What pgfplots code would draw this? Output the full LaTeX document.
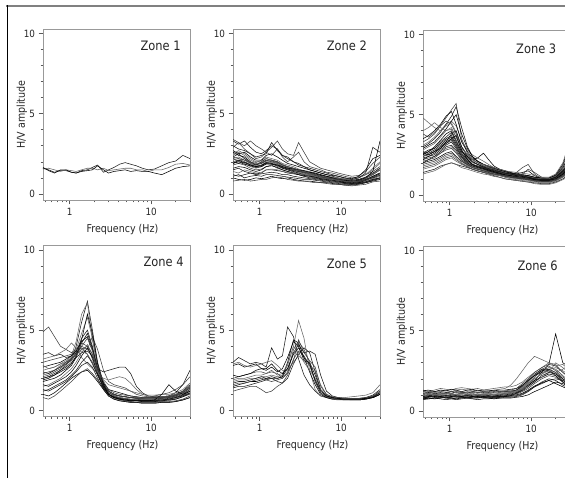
\documentclass[border=0pt]{standalone}
\usepackage{fontspec}
\setmainfont{DejaVu Sans}[FakeStretch=0.88]
\usepackage{pgfplots}
\usepackage{pgfplotstable}
\pgfplotsset{compat=1.18}

% each row = one H/V curve, columns = frequency (Hz)
\pgfplotstableread[row sep=\\]{
id 0.47 0.55 0.65 0.77 0.9 1.05 1.2 1.4 1.65 1.9 2.2 2.6 3.0 3.5 4.1 4.8 5.6 6.6 7.8 9.2 11 13.5 16.5 20 24.5 30 \\
a1 1.6 1.5 1.35 1.45 1.45 1.35 1.3 1.45 1.5 1.65 1.8 1.35 1.5 1.65 1.85 1.95 1.85 1.75 1.6 1.5 1.55 1.75 1.95 2.05 2.4 2.2 \\
a2 1.55 1.6 1.5 1.4 1.5 1.45 1.4 1.5 1.6 1.6 1.5 1.6 1.45 1.5 1.55 1.6 1.6 1.5 1.5 1.4 1.5 1.5 1.65 1.85 1.9 1.8 \\
a3 1.65 1.45 1.3 1.5 1.5 1.35 1.3 1.4 1.45 1.5 1.75 1.5 1.3 1.4 1.45 1.5 1.4 1.45 1.4 1.4 1.3 1.2 1.4 1.6 1.7 1.75 \\
}\ZoneOneRaw

\pgfplotstableread[row sep=\\]{
id 0.47 0.55 0.65 0.77 0.9 1.05 1.2 1.4 1.65 1.9 2.2 2.6 3.0 3.5 4.1 4.8 5.6 6.6 7.8 9.2 11 13.5 16.5 20 24.5 30 \\
c1 2.3 2.5 2.2 1.9 1.8 1.9 2.1 2.0 1.9 1.7 1.6 1.5 1.4 1.3 1.2 1.15 1.05 1.0 0.95 0.9 0.8 0.75 0.8 0.9 1.1 1.3 \\
c2 2.0 2.1 1.9 1.7 1.6 1.7 1.9 1.9 1.7 1.6 1.5 1.35 1.25 1.2 1.1 1.0 0.95 0.9 0.85 0.8 0.7 0.65 0.7 0.8 0.95 1.1 \\
c3 2.6 2.4 2.3 2.0 1.8 2.0 2.2 2.1 2.0 1.8 1.7 1.6 1.5 1.4 1.35 1.25 1.15 1.05 1.0 0.95 0.9 0.85 0.9 1.05 1.3 1.6 \\
c4 1.8 1.9 1.8 1.6 1.5 1.55 1.7 1.8 1.6 1.5 1.4 1.3 1.2 1.1 1.05 1.0 0.9 0.85 0.8 0.75 0.65 0.6 0.65 0.7 0.85 1.0 \\
c5 3.3 3.1 3.3 2.9 2.6 2.5 2.7 3.0 2.8 2.4 2.2 2.0 1.8 1.7 1.5 1.4 1.3 1.2 1.1 1.0 0.9 0.85 0.9 1.0 1.2 1.5 \\
c6 2.2 2.3 2.1 1.9 1.75 1.8 2.0 1.95 1.85 1.65 1.55 1.45 1.35 1.25 1.2 1.1 1.0 0.95 0.9 0.85 0.75 0.7 0.75 0.85 1.0 1.2 \\
c7 1.0 0.9 0.85 0.9 1.0 0.95 1.0 1.1 1.0 0.95 1.0 0.9 0.85 0.8 0.8 0.75 0.7 0.7 0.65 0.6 0.55 0.55 0.6 0.7 0.8 0.9 \\
c8 2.9 3.2 2.8 2.5 2.2 2.3 2.6 2.4 2.8 2.3 2.0 2.3 2.6 2.0 1.7 1.6 1.5 1.35 1.3 1.2 1.1 1.0 1.05 1.2 1.4 1.7 \\
c9 1.5 1.6 1.4 1.3 1.25 1.3 1.5 1.5 1.45 1.4 1.3 1.25 1.2 1.1 1.0 0.95 0.9 0.85 0.8 0.75 0.7 0.65 0.7 0.75 0.9 1.0 \\
c10 2.4 2.6 2.4 2.1 1.95 2.1 2.3 2.2 2.1 1.9 1.8 1.7 1.55 1.45 1.4 1.3 1.2 1.1 1.05 1.0 0.95 0.9 1.0 1.2 1.6 2.0 \\
c11 1.9 2.0 1.85 1.75 1.65 1.7 1.85 1.85 1.8 1.6 1.5 1.4 1.3 1.2 1.15 1.05 0.95 0.9 0.85 0.8 0.7 0.65 0.7 0.85 1.1 1.3 \\
c12 3.4 3.2 3.0 3.3 3.0 2.8 2.6 2.9 3.3 2.8 2.5 2.4 3.2 2.6 2.0 1.8 1.6 1.5 1.4 1.3 1.2 1.1 1.15 1.4 1.9 2.3 \\
c13 1.2 1.1 1.2 1.3 1.2 1.25 1.3 1.35 1.3 1.2 1.2 1.1 1.05 1.0 0.95 0.9 0.85 0.8 0.75 0.7 0.65 0.6 0.65 0.75 0.9 1.0 \\
c14 2.1 2.2 2.0 1.85 1.7 1.75 1.95 2.0 1.9 1.75 1.6 1.5 1.4 1.3 1.25 1.2 1.1 1.0 0.95 0.85 0.8 0.75 0.8 0.95 1.2 1.5 \\
c15 2.7 2.5 2.6 2.3 2.1 2.1 2.4 2.5 2.3 2.1 1.9 1.8 1.7 1.6 1.5 1.4 1.3 1.2 1.15 1.1 1.0 0.95 1.1 1.5 2.2 2.4 \\
c16 0.8 0.85 0.9 0.8 0.85 0.9 0.9 1.0 1.05 1.0 0.9 0.85 0.8 0.8 0.75 0.7 0.7 0.65 0.6 0.6 0.55 0.5 0.55 0.6 0.75 0.8 \\
c17 2.0 1.9 2.0 1.8 1.7 1.8 1.9 1.85 1.75 1.65 1.55 1.45 1.4 1.35 1.3 1.25 1.15 1.1 1.0 0.95 0.85 0.8 0.8 0.9 1.0 1.15 \\
c18 2.5 2.7 2.5 2.2 2.0 2.05 2.2 2.1 2.0 1.85 1.7 1.6 1.5 1.4 1.3 1.2 1.1 1.05 1.0 0.95 0.9 0.9 1.0 1.2 1.5 1.9 \\
c19 1.6 1.7 1.65 1.5 1.4 1.5 1.7 1.75 1.65 1.5 1.4 1.3 1.2 1.15 1.1 1.05 1.0 0.95 0.9 0.85 0.75 0.7 0.75 0.85 1.05 1.25 \\
c20 2.2 2.0 2.2 2.0 1.9 1.95 2.1 2.1 2.0 1.8 1.65 1.55 1.45 1.35 1.3 1.2 1.1 1.0 0.95 0.9 0.8 0.75 0.8 0.95 1.25 1.6 \\
c21 3.0 2.8 2.7 2.5 2.3 2.4 2.5 3.2 2.7 2.4 2.3 2.0 1.9 1.7 1.6 1.5 1.4 1.3 1.2 1.1 1.0 0.9 1.0 1.3 2.9 2.6 \\
c22 1.4 1.3 1.5 1.4 1.3 1.35 1.5 1.55 1.5 1.4 1.35 1.3 1.25 1.2 1.15 1.1 1.0 0.95 0.9 0.85 0.8 0.75 0.85 1.0 1.25 1.5 \\
c23 1.9 2.1 1.95 1.8 1.7 1.75 1.95 1.9 1.8 1.7 1.6 1.55 1.5 1.45 1.35 1.3 1.2 1.1 1.0 0.9 0.85 0.8 0.85 1.0 1.4 3.3 \\
c24 2.3 2.2 2.1 1.95 1.85 1.9 2.05 2.05 1.95 1.8 1.7 1.6 1.45 1.35 1.25 1.15 1.05 1.0 0.95 0.9 0.8 0.75 0.75 0.85 1.05 1.3 \\
c25 1.1 1.2 1.0 1.1 1.15 1.1 1.2 1.2 1.15 1.1 1.05 1.0 0.95 0.9 0.9 0.85 0.8 0.75 0.7 0.65 0.6 0.6 0.65 0.7 0.85 0.95 \\
}\ZoneTwoRaw

\pgfplotstableread[row sep=\\]{
id 0.47 0.55 0.65 0.77 0.9 1.05 1.2 1.4 1.65 1.9 2.2 2.6 3.0 3.5 4.1 4.8 5.6 6.6 7.8 9.2 11 13.5 16.5 20 24.5 30 \\
d1 2.4 2.5 2.7 3.0 3.3 3.5 3.0 2.4 2.0 1.8 1.7 1.6 1.5 1.4 1.3 1.2 1.15 1.1 1.05 1.0 0.95 0.9 0.9 1.0 1.3 1.8 \\
d2 2.8 3.0 3.2 3.6 4.0 4.2 3.6 2.8 2.3 2.0 1.9 1.7 1.6 1.5 1.4 1.3 1.2 1.15 1.1 1.05 1.0 0.95 0.95 1.1 1.5 2.1 \\
d3 2.0 2.1 2.2 2.4 2.6 2.7 2.4 2.1 1.9 1.7 1.6 1.5 1.4 1.3 1.25 1.15 1.1 1.05 1.0 0.95 0.9 0.85 0.85 0.95 1.2 1.6 \\
d4 3.3 3.5 3.8 4.3 4.8 5.3 5.7 3.5 2.6 2.2 2.0 1.8 1.7 1.6 1.5 1.4 1.3 1.25 1.2 1.1 1.05 1.0 1.0 1.15 1.6 2.4 \\
d5 1.4 1.5 1.6 1.8 1.9 2.0 1.9 1.8 1.7 1.6 1.5 1.4 1.3 1.2 1.1 1.0 0.95 0.9 0.85 0.8 0.75 0.7 0.7 0.8 1.0 1.3 \\
d6 4.8 4.5 4.2 4.0 4.4 4.6 4.3 3.4 2.8 2.5 2.3 2.1 1.9 1.7 1.6 1.5 1.4 1.3 1.25 1.2 1.1 1.05 1.05 1.2 1.7 2.5 \\
d7 2.6 2.8 2.9 3.2 3.5 3.7 3.2 2.6 2.2 1.9 1.8 1.7 1.55 1.45 1.35 1.25 1.2 1.1 1.05 1.0 0.95 0.9 0.9 1.05 1.4 1.9 \\
d8 2.2 2.3 2.4 2.6 2.9 3.0 2.7 2.2 1.95 1.75 1.65 1.55 1.45 1.35 1.3 1.2 1.15 1.1 1.05 1.0 0.95 0.9 0.9 1.0 1.3 1.7 \\
d9 3.0 3.2 3.5 3.9 4.4 4.9 5.5 4.2 3.0 2.4 2.1 1.9 1.8 1.7 1.55 1.45 1.35 1.3 1.25 1.2 1.1 1.05 1.05 1.2 1.7 2.6 \\
d10 1.8 1.9 2.0 2.2 2.4 2.5 2.3 2.0 1.8 1.6 1.5 1.45 1.35 1.25 1.2 1.1 1.05 1.0 0.95 0.9 0.85 0.8 0.8 0.9 1.1 1.5 \\
d11 2.5 2.7 3.0 3.4 3.8 4.0 3.4 2.7 2.4 2.2 2.3 2.6 2.2 1.8 1.6 1.5 1.4 1.3 1.4 1.5 1.2 1.0 1.0 1.15 1.5 2.2 \\
d12 3.8 3.6 3.9 4.3 4.6 4.4 3.8 3.0 2.5 2.2 2.0 1.8 1.7 1.6 1.5 1.4 1.35 1.3 1.25 1.2 1.1 1.0 1.0 1.2 1.8 3.0 \\
d13 2.3 2.4 2.5 2.8 3.1 3.3 2.9 2.4 2.1 1.85 1.75 1.65 1.5 1.4 1.35 1.25 1.2 1.1 1.05 1.0 0.95 0.9 0.9 1.05 1.35 1.8 \\
d14 1.6 1.7 1.8 2.0 2.2 2.3 2.1 1.9 1.75 1.6 1.5 1.4 1.3 1.25 1.2 1.1 1.0 0.95 0.9 0.85 0.8 0.75 0.75 0.85 1.1 1.4 \\
d15 2.9 3.1 3.3 3.7 4.1 4.6 5.0 3.8 2.9 2.4 2.1 1.9 1.75 1.6 1.5 1.4 1.3 1.25 1.2 1.15 1.05 1.0 1.0 1.1 1.5 2.1 \\
d16 2.1 2.2 2.3 2.6 2.8 2.9 2.6 2.2 1.9 1.7 1.6 1.5 1.45 1.4 1.35 1.3 1.3 1.4 1.7 1.9 1.3 1.0 0.95 1.05 1.3 1.7 \\
d17 2.7 2.6 2.8 3.1 3.4 3.6 3.1 2.5 2.1 1.9 1.8 1.7 1.6 1.5 1.4 1.3 1.25 1.2 1.15 1.1 1.0 0.95 0.95 1.1 1.45 2.0 \\
d18 1.3 1.4 1.5 1.7 1.9 2.0 1.9 1.7 1.6 1.5 1.4 1.3 1.25 1.15 1.1 1.0 0.95 0.9 0.85 0.8 0.7 0.65 0.65 0.75 0.95 1.2 \\
d19 3.5 3.7 4.0 4.4 4.9 5.2 4.4 3.3 2.7 2.3 2.1 1.9 1.8 1.65 1.55 1.45 1.35 1.3 1.25 1.2 1.1 1.05 1.05 1.25 1.9 3.2 \\
d20 2.4 2.6 2.7 3.0 3.2 3.4 3.0 2.5 2.1 1.9 1.8 1.7 1.6 1.5 1.4 1.3 1.25 1.2 1.3 1.6 1.4 1.1 1.0 1.1 1.4 1.9 \\
d21 2.0 2.2 2.4 2.7 3.0 3.1 2.8 2.3 2.0 1.8 1.7 1.6 1.5 1.4 1.3 1.2 1.1 1.05 1.0 0.95 0.9 0.85 0.85 0.95 1.25 1.6 \\
d22 3.1 3.3 3.6 4.0 4.3 4.5 3.9 3.0 2.5 2.2 2.0 1.85 1.7 1.6 1.5 1.4 1.3 1.25 1.2 1.15 1.05 1.0 1.0 1.15 1.5 2.2 \\
d23 2.6 2.5 2.7 2.9 3.3 3.8 4.0 3.0 2.4 2.1 1.9 1.75 1.65 1.55 1.45 1.35 1.3 1.2 1.15 1.1 1.0 0.95 0.95 1.1 1.5 2.0 \\
d24 1.9 2.0 2.1 2.3 2.5 2.6 2.4 2.1 1.85 1.7 1.6 1.5 1.4 1.3 1.25 1.15 1.1 1.05 1.0 0.95 0.85 0.8 0.8 0.9 1.15 1.5 \\
d25 2.5 2.7 2.9 3.3 3.6 3.9 3.3 2.7 2.3 2.05 1.9 1.75 1.6 1.5 1.45 1.35 1.3 1.25 1.2 1.1 1.0 0.95 0.95 1.1 1.45 2.0 \\
d26 4.0 4.2 4.5 4.2 4.0 4.1 3.6 2.9 2.5 2.2 2.0 1.9 1.8 1.7 1.6 1.5 1.45 1.4 1.35 1.3 1.2 1.1 1.1 1.3 2.0 3.4 \\
d27 2.2 2.4 2.6 2.9 3.2 3.5 3.7 2.8 2.2 1.9 1.75 1.65 1.55 1.45 1.35 1.25 1.2 1.15 1.1 1.05 0.95 0.9 0.9 1.0 1.3 1.8 \\
d28 1.7 1.8 1.9 2.1 2.3 2.4 2.2 1.95 1.75 1.6 1.5 1.4 1.35 1.3 1.25 1.2 1.15 1.1 1.05 1.0 0.9 0.85 0.85 0.95 1.2 1.55 \\
}\ZoneThreeRaw

\pgfplotstableread[row sep=\\]{
id 0.47 0.55 0.65 0.77 0.9 1.05 1.2 1.4 1.65 1.9 2.2 2.6 3.0 3.5 4.1 4.8 5.6 6.6 7.8 9.2 11 13.5 16.5 20 24.5 30 \\
e1 2.0 2.1 2.2 2.5 2.8 3.2 4.0 5.5 6.8 5.0 3.0 1.7 1.1 0.9 0.8 0.75 0.7 0.7 0.65 0.65 0.65 0.7 0.75 0.85 1.0 1.3 \\
e2 2.5 2.6 2.7 2.9 3.1 3.4 4.3 6.0 6.7 4.4 2.7 1.6 1.1 0.9 0.8 0.75 0.7 0.65 0.6 0.6 0.6 0.65 0.7 0.8 0.95 1.2 \\
e3 1.8 1.9 2.0 2.2 2.5 2.8 3.3 4.2 4.8 3.9 2.6 1.6 1.2 1.0 0.9 0.85 0.8 0.75 0.7 0.7 0.7 0.75 0.8 0.9 1.1 1.4 \\
e4 4.9 5.2 4.6 4.0 3.8 3.6 3.8 4.2 4.0 3.2 2.3 1.5 1.1 0.95 0.9 0.85 0.8 0.75 0.7 0.7 0.7 0.75 0.8 0.9 1.05 1.3 \\
e5 3.5 3.6 3.4 3.5 3.3 3.4 3.6 3.9 3.5 2.9 2.2 1.5 1.2 1.0 0.9 0.85 0.8 0.8 0.75 0.75 0.75 0.8 0.85 0.95 1.2 1.5 \\
e6 2.2 2.3 2.5 2.8 3.0 3.3 3.8 4.8 5.8 4.5 2.8 1.6 1.0 0.8 0.7 0.65 0.6 0.6 0.55 0.55 0.55 0.6 0.65 0.75 0.9 1.1 \\
e7 1.0 0.9 1.1 1.4 1.7 2.0 2.2 2.4 2.5 2.2 1.8 1.3 0.9 0.7 0.6 0.55 0.5 0.5 0.45 0.45 0.45 0.5 0.5 0.55 0.65 0.8 \\
e8 3.0 3.1 3.2 3.3 3.4 3.5 3.7 4.0 3.8 4.6 3.8 2.5 1.8 1.6 1.5 1.4 1.2 1.0 0.9 0.85 0.8 0.8 0.85 0.95 1.1 1.4 \\
e9 2.0 2.1 2.3 2.5 2.7 3.0 3.3 3.6 3.7 3.4 2.6 2.4 2.5 2.6 2.7 2.7 2.3 1.5 1.1 0.9 0.85 0.85 0.9 1.1 1.6 2.5 \\
e10 1.5 1.6 1.8 2.0 2.3 2.6 3.0 3.6 4.1 3.5 2.4 1.4 0.9 0.75 0.65 0.6 0.55 0.5 0.5 0.5 0.5 0.55 0.6 0.7 0.85 1.0 \\
e11 2.7 2.8 2.9 3.0 3.2 3.4 3.7 4.3 4.6 3.8 2.6 1.7 1.3 1.2 1.1 1.0 0.9 0.85 0.8 0.8 0.8 0.85 0.9 1.0 1.2 1.6 \\
e12 0.8 0.7 0.9 1.2 1.5 1.8 2.1 2.4 2.6 2.3 1.9 1.4 1.0 0.8 0.7 0.6 0.55 0.5 0.5 0.5 0.5 0.55 0.55 0.6 0.7 0.9 \\
e13 2.4 2.3 2.5 2.7 2.9 3.2 3.6 4.5 5.0 4.0 2.5 1.5 1.0 0.85 0.75 0.7 0.65 0.65 0.6 0.6 0.6 0.65 0.7 0.8 0.95 1.2 \\
e14 3.2 3.3 3.4 3.6 3.8 4.2 3.9 3.3 2.9 2.6 2.3 2.0 1.9 2.0 2.1 2.0 1.7 1.3 1.0 0.9 0.85 0.85 0.9 1.0 1.2 1.5 \\
e15 1.6 1.5 1.7 1.9 2.1 2.4 2.8 3.4 3.9 3.3 2.3 1.4 1.0 0.8 0.7 0.65 0.6 0.6 0.55 0.55 0.55 0.6 0.65 0.7 0.85 1.05 \\
e16 2.1 2.2 2.4 2.6 2.9 3.1 3.5 4.0 4.5 3.7 2.5 1.6 1.2 1.0 0.9 0.85 0.8 0.75 0.75 0.8 0.9 1.0 1.1 1.3 1.6 2.1 \\
e17 1.2 1.3 1.5 1.7 1.9 2.2 2.5 3.0 3.4 3.0 2.2 1.4 1.0 0.85 0.75 0.7 0.65 0.6 0.6 0.6 0.6 0.65 0.7 0.8 0.9 1.1 \\
e18 2.8 2.6 2.7 2.9 3.0 3.3 3.5 3.7 3.5 3.0 2.4 1.9 1.6 1.5 1.4 1.3 1.2 1.1 1.0 0.95 0.95 1.0 1.0 1.1 1.3 1.7 \\
e19 1.9 2.0 2.2 2.4 2.6 2.9 3.4 4.4 6.0 4.8 2.9 1.6 1.0 0.8 0.7 0.65 0.6 0.6 0.6 0.6 0.65 1.0 1.6 1.2 1.0 1.2 \\
e20 2.3 2.4 2.5 2.7 3.0 3.2 3.5 3.8 4.0 3.5 2.6 1.8 1.3 1.1 1.0 0.95 0.9 0.85 0.8 0.8 0.8 0.8 0.85 0.95 1.15 1.45 \\
e21 1.3 1.2 1.4 1.6 1.8 2.1 2.4 2.8 3.0 2.7 2.0 1.3 0.9 0.7 0.6 0.55 0.5 0.5 0.45 0.45 0.45 0.5 0.5 0.55 0.65 0.8 \\
}\ZoneFourRaw

\pgfplotstableread[row sep=\\]{
id 0.47 0.55 0.65 0.77 0.9 1.05 1.2 1.4 1.65 1.9 2.2 2.6 3.0 3.5 4.1 4.8 5.6 6.6 7.8 9.2 11 13.5 16.5 20 24.5 30 \\
g1 3.0 3.3 3.1 2.9 3.0 2.9 2.7 3.9 3.2 3.4 5.2 4.6 3.2 2.2 1.6 1.2 0.9 0.8 0.75 0.7 0.7 0.7 0.7 0.75 0.8 1.0 \\
g2 1.8 1.9 1.9 2.0 2.0 2.1 2.1 2.2 2.1 2.2 2.8 4.0 5.6 4.5 2.5 1.3 0.9 0.8 0.75 0.7 0.7 0.65 0.65 0.7 0.8 1.0 \\
g3 2.8 2.9 2.7 2.8 2.9 2.6 2.5 2.7 2.4 2.6 3.3 4.3 4.0 3.1 3.0 2.2 1.3 0.9 0.8 0.75 0.7 0.7 0.7 0.75 0.85 1.1 \\
g4 1.2 1.3 1.4 1.5 1.5 1.3 1.1 1.2 1.5 1.7 2.2 3.2 3.7 3.4 2.8 1.8 1.1 0.8 0.7 0.65 0.65 0.65 0.65 0.7 0.8 1.0 \\
g5 1.7 1.8 1.8 1.9 2.0 2.1 2.0 2.0 2.0 2.1 2.6 3.6 4.1 3.6 3.7 3.5 2.2 1.2 0.9 0.8 0.75 0.75 0.75 0.8 0.95 1.3 \\
g6 2.9 3.0 2.8 2.7 2.8 2.9 3.0 3.1 2.8 2.5 2.5 3.0 3.4 3.1 2.8 2.5 1.6 1.0 0.8 0.75 0.7 0.7 0.7 0.75 0.9 1.2 \\
g7 1.5 1.6 1.7 1.8 1.8 1.9 2.0 2.1 2.0 2.1 3.0 4.4 4.2 3.3 2.4 1.6 1.0 0.8 0.7 0.7 0.65 0.65 0.65 0.7 0.8 1.0 \\
g8 2.0 2.1 2.2 2.3 2.4 2.4 2.3 2.4 2.3 2.0 2.3 3.8 4.3 3.8 3.0 1.8 1.1 0.85 0.75 0.7 0.7 0.7 0.7 0.75 0.85 1.1 \\
g9 1.4 1.5 1.5 1.6 1.7 1.8 1.9 2.0 1.8 1.7 2.0 2.9 3.5 3.9 3.6 2.4 1.3 0.9 0.8 0.75 0.7 0.7 0.7 0.75 0.85 1.1 \\
g10 1.9 2.0 2.0 2.1 2.2 2.2 2.3 2.5 2.2 2.3 2.9 4.0 3.6 3.0 2.5 2.0 1.3 0.95 0.85 0.8 0.8 0.85 0.9 0.95 1.1 1.6 \\
g11 2.2 2.1 2.2 2.3 2.5 2.6 2.6 2.9 2.5 2.3 2.6 3.5 3.9 3.3 2.9 1.9 1.2 0.9 0.8 0.75 0.7 0.7 0.7 0.75 0.8 1.0 \\
g12 1.6 1.7 1.7 1.8 1.9 2.0 1.9 1.8 1.9 2.0 2.4 3.1 4.4 3.6 3.1 2.7 1.5 1.0 0.85 0.8 0.75 0.75 0.75 0.8 0.9 1.2 \\
}\ZoneFiveRaw

\pgfplotstableread[row sep=\\]{
id 0.47 0.55 0.65 0.77 0.9 1.05 1.2 1.4 1.65 1.9 2.2 2.6 3.0 3.5 4.1 4.8 5.6 6.6 7.8 9.2 11 13.5 16.5 20 24.5 30 \\
h1 0.9 1.0 0.9 0.95 1.0 0.95 0.9 1.0 0.95 0.9 0.95 1.0 0.95 0.9 1.0 1.1 1.15 1.3 1.6 1.9 2.2 2.4 2.5 2.3 1.9 1.6 \\
h2 1.2 1.1 1.2 1.25 1.3 1.2 1.3 1.35 1.3 1.25 1.3 1.2 1.25 1.3 1.35 1.4 1.6 2.0 2.5 3.0 3.4 3.2 3.0 2.8 2.9 2.5 \\
h3 0.8 0.85 0.9 0.85 0.8 0.85 0.9 0.85 0.8 0.85 0.9 0.85 0.85 0.8 0.85 0.9 0.95 1.1 1.3 1.6 1.9 2.4 2.9 4.8 3.0 2.7 \\
h4 1.0 1.1 1.0 1.05 1.1 1.0 1.05 1.1 1.0 1.05 1.0 1.05 1.0 1.05 1.0 1.05 1.1 1.2 1.4 1.7 2.1 2.5 2.7 2.6 2.2 1.8 \\
h5 0.7 0.75 0.8 0.75 0.7 0.75 0.7 0.75 0.8 0.75 0.7 0.75 0.75 0.8 0.8 0.85 0.85 0.9 1.0 1.2 1.5 1.8 2.0 1.9 1.6 1.4 \\
h6 1.3 1.2 1.3 1.4 1.35 1.3 1.4 1.45 1.4 1.35 1.4 1.3 1.35 1.4 1.45 1.5 1.5 1.6 1.8 2.1 2.4 2.7 3.0 2.9 2.4 2.0 \\
h7 0.9 0.95 1.0 0.9 0.95 1.0 0.95 0.9 1.0 0.95 0.9 0.95 0.9 0.95 0.95 1.0 1.05 1.15 1.35 1.6 1.9 2.1 2.3 2.2 1.8 1.5 \\
h8 1.1 1.0 1.1 1.15 1.1 1.2 1.15 1.1 1.2 1.15 1.1 1.15 1.1 1.15 1.2 1.2 1.25 1.3 1.5 1.8 2.2 2.6 2.8 2.5 2.1 1.8 \\
h9 0.8 0.75 0.8 0.85 0.8 0.75 0.8 0.85 0.8 0.8 0.85 0.8 0.8 0.85 0.85 0.9 0.9 0.95 1.05 1.25 1.5 1.7 1.9 2.0 1.9 1.7 \\
h10 1.0 0.9 0.95 1.0 1.05 1.1 1.0 0.95 1.05 1.0 0.95 1.0 1.05 1.0 1.05 1.1 1.15 1.25 1.45 1.75 2.0 2.3 2.6 2.7 2.5 2.2 \\
h11 1.25 1.3 1.2 1.3 1.25 1.35 1.3 1.2 1.3 1.35 1.25 1.3 1.3 1.25 1.3 1.3 1.35 1.4 1.6 1.9 2.2 2.5 2.6 2.4 2.0 1.7 \\
h12 0.85 0.9 0.85 0.8 0.9 0.85 0.9 0.85 0.9 0.9 0.85 0.9 0.85 0.9 0.9 0.95 1.0 1.05 1.2 1.4 1.7 2.0 2.2 2.1 1.8 1.55 \\
h13 1.1 1.15 1.1 1.05 1.15 1.1 1.2 1.15 1.1 1.2 1.15 1.1 1.15 1.2 1.15 1.2 1.2 1.3 1.55 1.9 2.3 2.6 2.5 2.2 1.8 1.5 \\
h14 0.95 1.0 1.05 1.0 0.95 1.0 1.05 1.0 0.95 1.0 1.05 1.0 1.0 1.0 1.05 1.1 1.1 1.2 1.35 1.55 1.8 2.1 2.4 3.0 2.7 2.3 \\
h15 0.75 0.8 0.75 0.8 0.85 0.8 0.75 0.8 0.85 0.8 0.8 0.85 0.8 0.75 0.8 0.8 0.8 0.85 0.9 1.0 1.2 1.4 1.6 1.8 1.7 1.5 \\
h16 1.2 1.25 1.15 1.2 1.25 1.2 1.25 1.2 1.15 1.2 1.25 1.2 1.2 1.25 1.2 1.25 1.3 1.4 1.7 2.0 2.4 2.7 2.9 2.8 2.4 2.1 \\
h17 0.9 0.85 0.95 0.9 0.85 0.9 0.95 0.9 0.85 0.9 0.95 0.9 0.9 0.85 0.9 0.95 1.0 1.1 1.25 1.5 1.8 2.2 2.4 2.3 2.0 1.7 \\
h18 1.05 1.1 1.0 1.1 1.05 1.1 1.0 1.1 1.05 1.1 1.0 1.05 1.1 1.05 1.1 1.15 1.2 1.25 1.4 1.65 2.0 2.3 2.5 2.4 2.6 2.9 \\
h19 0.8 0.9 0.85 0.9 0.95 0.9 0.85 0.9 0.95 0.9 0.85 0.9 0.95 0.9 0.9 0.9 0.95 1.0 1.1 1.3 1.55 1.75 1.9 1.7 1.5 1.3 \\
}\ZoneSixRaw

\pgfplotstabletranspose[colnames from=id, input colnames to=f]{\ZoneOne}{\ZoneOneRaw}
\pgfplotstabletranspose[colnames from=id, input colnames to=f]{\ZoneTwo}{\ZoneTwoRaw}
\pgfplotstabletranspose[colnames from=id, input colnames to=f]{\ZoneThree}{\ZoneThreeRaw}
\pgfplotstabletranspose[colnames from=id, input colnames to=f]{\ZoneFour}{\ZoneFourRaw}
\pgfplotstabletranspose[colnames from=id, input colnames to=f]{\ZoneFive}{\ZoneFiveRaw}
\pgfplotstabletranspose[colnames from=id, input colnames to=f]{\ZoneSix}{\ZoneSixRaw}

\tikzset{zonelabel/.style={font=\fontsize{13}{14}\selectfont, text=black!85}}

\newcommand{\PanelBegin}[1]{%
\begin{axis}[
    scale only axis, width=147pt, height=171pt, anchor=south west,
    xmode=log, xmin=0.47, xmax=30, ymin=-0.38, ymax=10.28,
    xtick={1,10}, xticklabels={1,10},
    minor xtick={0.5,0.6,0.7,0.8,0.9,2,3,4,5,6,7,8,9,20,30},
    ytick={0,5,10}, minor ytick={1,2,3,4,6,7,8,9},
    tick pos=left, tick align=outside,
    major tick length=4.5pt, minor tick length=2.5pt,
    axis line style={black!40, line width=0.8pt},
    tick style={black!65, line width=0.6pt},
    tick label style={font=\fontsize{10}{11}\selectfont, text=black!85},
    label style={font=\fontsize{10.8}{12}\selectfont, text=black!85},
    xlabel={Frequency (Hz)}, ylabel={H/V amplitude},
    xlabel style={at={(axis description cs:0.54,-0.17)}, anchor=center},
    ylabel style={at={(axis description cs:-0.143,0.5)}, anchor=center},
    /pgf/number format/assume math mode=true,
    cycle list={{black!90,line width=0.55pt},{black!60,line width=0.55pt},{black,line width=0.55pt},{black!75,line width=0.55pt}},
    #1]}

\begin{document}
\begin{tikzpicture}[x=1pt,y=1pt]
\path[use as bounding box] (0,0) rectangle (565,478);
\clip (0,0) rectangle (565,478);
\fill[white] (0,0) rectangle (565,478);
\draw[black!50, line width=1.8pt] (6,472) -- (575,472);
\draw[black, line width=0.9pt] (7,473) -- (7,-5);

\PanelBegin{at={(43pt,278pt)}}
\pgfplotsinvokeforeach{1,...,3}{\addplot table[x=f, y index=#1]{\ZoneOne};}
\node[zonelabel] at (rel axis cs:0.80,0.90) {Zone 1};
\end{axis}

\PanelBegin{at={(233pt,278pt)}}
\pgfplotsinvokeforeach{1,...,25}{\addplot table[x=f, y index=#1]{\ZoneTwo};}
\node[zonelabel] at (rel axis cs:0.775,0.90) {Zone 2};
\end{axis}

\PanelBegin{at={(423pt,277pt)}}
\pgfplotsinvokeforeach{1,...,28}{\addplot table[x=f, y index=#1]{\ZoneThree};}
\node[zonelabel] at (rel axis cs:0.77,0.89) {Zone 3};
\end{axis}

\PanelBegin{at={(43pt,61.5pt)}}
\pgfplotsinvokeforeach{1,...,21}{\addplot table[x=f, y index=#1]{\ZoneFour};}
\node[zonelabel] at (rel axis cs:0.82,0.905) {Zone 4};
\end{axis}

\PanelBegin{at={(233pt,61.5pt)}}
\pgfplotsinvokeforeach{1,...,12}{\addplot table[x=f, y index=#1]{\ZoneFive};}
\node[zonelabel] at (rel axis cs:0.775,0.89) {Zone 5};
\end{axis}

\PanelBegin{at={(423pt,61pt)}}
\pgfplotsinvokeforeach{1,...,19}{\addplot table[x=f, y index=#1]{\ZoneSix};}
\node[zonelabel] at (rel axis cs:0.78,0.886) {Zone 6};
\end{axis}
\end{tikzpicture}
\end{document}
